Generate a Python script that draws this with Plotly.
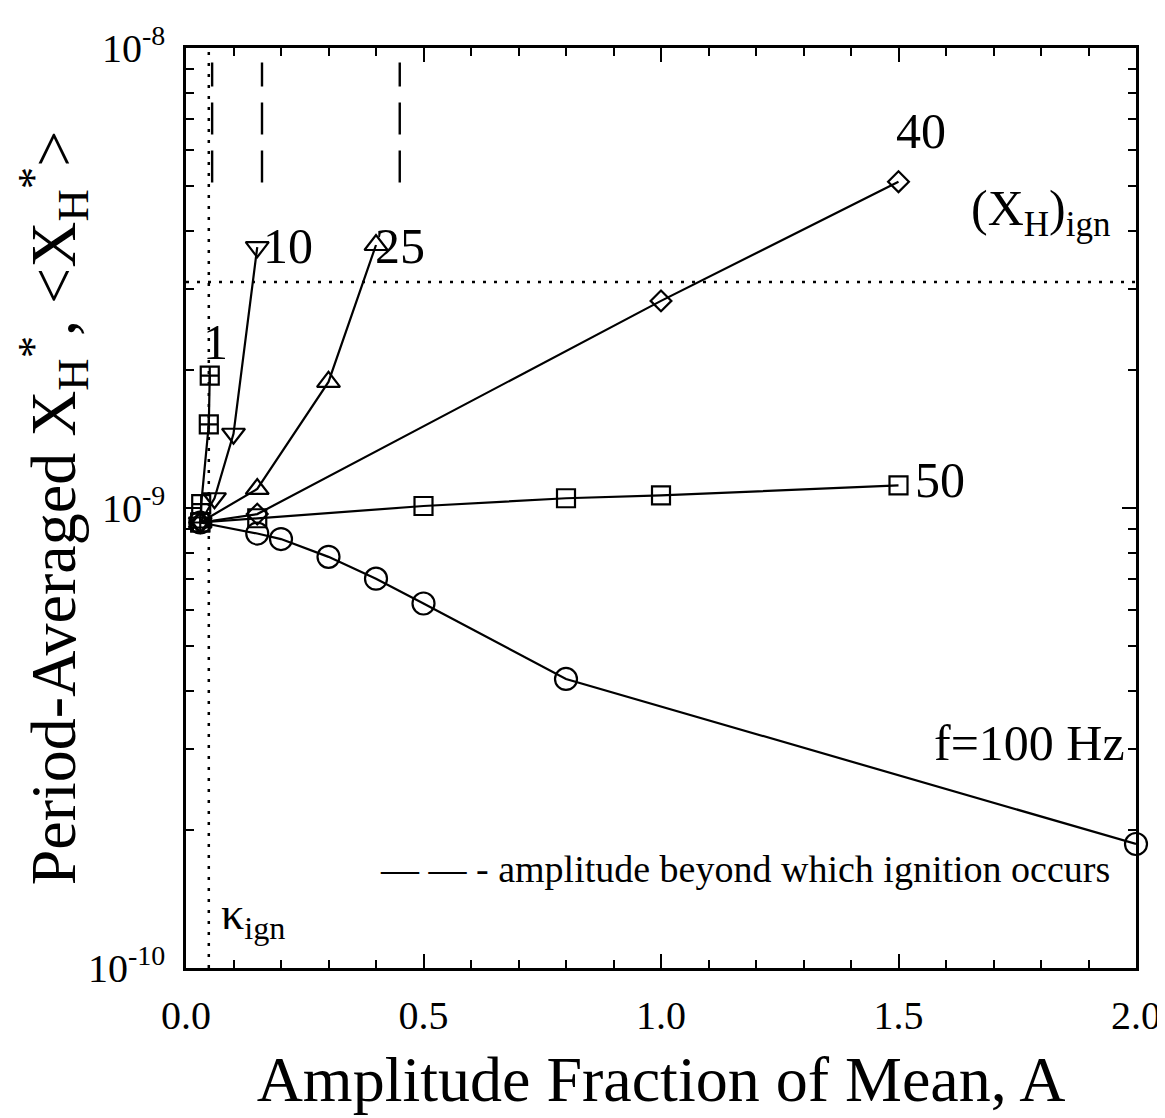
import math
import plotly.graph_objects as go

# amplitude fraction A (x) and period-averaged X_H* (y) for each forcing frequency
a_1 = [0.03, 0.032, 0.048, 0.05]
xh_1 = [9.3e-10, 1.02e-9, 1.52e-9, 1.94e-9]

a_10 = [0.03, 0.06, 0.10, 0.15]
xh_10 = [9.3e-10, 1.05e-9, 1.45e-9, 3.69e-9]

a_25 = [0.03, 0.15, 0.30, 0.40]
xh_25 = [9.3e-10, 1.10e-9, 1.88e-9, 3.73e-9]

a_40 = [0.03, 0.15, 1.0, 1.5]
xh_40 = [9.3e-10, 9.7e-10, 2.82e-9, 5.12e-9]

a_50 = [0.03, 0.15, 0.5, 0.8, 1.0, 1.5]
xh_50 = [9.3e-10, 9.5e-10, 1.01e-9, 1.05e-9, 1.065e-9, 1.12e-9]

a_100 = [0.03, 0.15, 0.2, 0.3, 0.4, 0.5, 0.8, 2.0]
xh_100 = [9.3e-10, 8.8e-10, 8.56e-10, 7.83e-10, 7.02e-10, 6.2e-10, 4.25e-10, 1.86e-10]

# amplitudes beyond which ignition occurs (1, 10, 25 Hz) and the span of their dash marks
ign_amp = [0.055, 0.16, 0.45]
ign_span = [5.1e-9, 9.3e-9]

kappa_ign = 0.048
xh_ign = 3.1e-9

x_range = [0, 2.0]
y_range = [1e-10, 1e-8]

x_ticks = [0.0, 0.5, 1.0, 1.5, 2.0]
x_ticktext = ["0.0", "0.5", "1.0", "1.5", "2.0"]
y_ticks = [1e-10, 1e-9, 1e-8]
y_ticktext = ["10<sup>-10</sup>", "10<sup>-9</sup>", "10<sup>-8</sup>"]
x_minor = [i / 10 for i in range(1, 20)]
y_minor = [m * 10 ** e for e in (-10, -9) for m in range(2, 10)]

FONT = "Liberation Serif, Times New Roman, serif"
line = dict(color="black", width=2.2)

fig = go.Figure()

series = [
    (a_1, xh_1, "square-cross-open", 18),
    (a_10, xh_10, "triangle-down-open", 20),
    (a_25, xh_25, "triangle-up-open", 20),
    (a_40, xh_40, "diamond-open", 16),
    (a_50, xh_50, "square-open", 18),
    (a_100, xh_100, "circle-open", 22),
]
for ax, ay, sym, size in series:
    fig.add_trace(go.Scatter(
        x=ax, y=ay, mode="lines+markers", line=line,
        marker=dict(symbol=sym, size=size, color="black", line=dict(width=2.2)),
        cliponaxis=False, showlegend=False,
    ))

# (X_H)ign horizontal dotted line
fig.add_trace(go.Scatter(x=x_range, y=[xh_ign, xh_ign], mode="lines",
                         line=dict(color="black", width=2.5, dash="3px,8px"),
                         showlegend=False))
# kappa_ign vertical dotted line
fig.add_trace(go.Scatter(x=[kappa_ign, kappa_ign], y=y_range, mode="lines",
                         line=dict(color="black", width=2.5, dash="3px,8px"),
                         showlegend=False))
# ignition amplitude dash marks
for a in ign_amp:
    fig.add_trace(go.Scatter(x=[a, a], y=ign_span, mode="lines",
                             line=dict(color="black", width=2.4, dash="32px,16px"),
                             showlegend=False))

big = dict(family=FONT, size=50, color="black")
notes = [
    (0.063, 2.3e-9, "1", "center"),
    (0.158, 3.72e-9, "10", "left"),
    (0.393, 3.72e-9, "25", "left"),
    (1.49, 6.6e-9, "40", "left"),
    (1.53, 1.15e-9, "50", "left"),
]
for x, y, t, anc in notes:
    fig.add_annotation(x=x, y=math.log10(y), text=t, showarrow=False,
                       xanchor=anc, yanchor="middle", font=big)

fig.add_annotation(x=1.95, y=math.log10(4.4e-9), text="(X<sub>H</sub>)<sub>ign</sub>",
                   showarrow=False, xanchor="right", yanchor="middle", font=big)
fig.add_annotation(x=1.98, y=math.log10(3.08e-10), text="f=100 Hz",
                   showarrow=False, xanchor="right", yanchor="middle", font=big)
fig.add_annotation(x=1.95, y=math.log10(1.64e-10),
                   text="— — - amplitude beyond which ignition occurs",
                   showarrow=False, xanchor="right", yanchor="middle",
                   font=dict(family=FONT, size=38, color="black"))
fig.add_annotation(x=0.07, y=math.log10(1.29e-10), text="κ<sub>ign</sub>",
                   showarrow=False, xanchor="left", yanchor="middle",
                   font=dict(family=FONT, size=46, color="black"))

axis_common = dict(showline=True, linecolor="black", linewidth=2.5, mirror="ticks",
                   ticks="inside", ticklen=14, tickwidth=2, tickcolor="black",
                   showgrid=False, zeroline=False,
                   tickfont=dict(family=FONT, size=40, color="black"))

fig.update_xaxes(range=x_range, tickvals=x_ticks, ticktext=x_ticktext,
                 minor=dict(tickvals=x_minor, ticks="inside", ticklen=8,
                            tickwidth=1.5, tickcolor="black"),
                 ticklabelstandoff=10,
                 title=dict(text="Amplitude Fraction of Mean, A", standoff=20,
                            font=dict(family=FONT, size=64, color="black")),
                 **axis_common)
fig.update_yaxes(type="log", range=[-10, -8], tickvals=y_ticks, ticktext=y_ticktext,
                 minor=dict(tickvals=y_minor, ticks="inside", ticklen=8,
                            tickwidth=1.5, tickcolor="black"),
                 ticklabelstandoff=10,
                 title=dict(text="Period-Averaged X<sub>H</sub><sup>*</sup>, &lt;X<sub>H</sub><sup>*</sup>&gt;",
                            standoff=22,
                            font=dict(family=FONT, size=64, color="black")),
                 **axis_common)

fig.update_layout(width=1165, height=1118, plot_bgcolor="white", paper_bgcolor="white",
                  margin=dict(l=178, r=35, t=30, b=158), showlegend=False)

fig.write_html("out.html")
